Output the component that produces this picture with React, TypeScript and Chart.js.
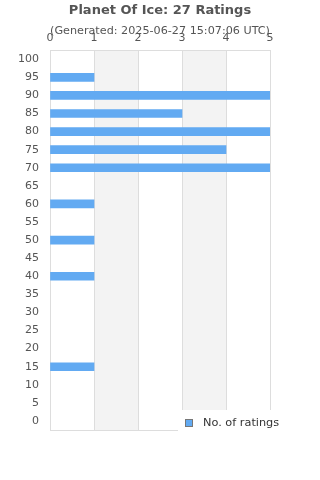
import React, { useEffect, useRef } from "react";
import { Chart, registerables } from "chart.js";

Chart.register(...registerables);

const categories = ["100", "95", "90", "85", "80", "75", "70", "65", "60", "55", "50", "45", "40", "35", "30", "25", "20", "15", "10", "5", "0"];
const ratingValues = [0, 1, 5, 3, 5, 4, 5, 0, 1, 0, 1, 0, 1, 0, 0, 0, 0, 1, 0, 0, 0];
const xTicks = [0, 1, 2, 3, 4, 5];
const shadedBands = [[1, 2], [3, 4]];
const titleText = "Planet Of Ice: 27 Ratings";
const subtitleText = "(Generated: 2025-06-27 15:07:06 UTC)";
const seriesLabel = "No. of ratings";

const BAR = "#62aaf2";
const FONT = "'DejaVu Sans', sans-serif";

export default function App() {
  const ref = useRef<HTMLCanvasElement | null>(null);
  useEffect(() => {
    if (!ref.current) return;
    const bgPlugin = {
      id: "bands",
      beforeDraw(chart: any) {
        const { ctx, chartArea, scales } = chart;
        const x = scales.x;
        ctx.save();
        ctx.fillStyle = "#f3f3f3";
        for (const [a, b] of shadedBands) {
          const x0 = x.getPixelForValue(a);
          const x1 = x.getPixelForValue(b);
          ctx.fillRect(x0, chartArea.top, x1 - x0, chartArea.bottom - chartArea.top);
        }
        ctx.restore();
      },
      beforeDatasetsDraw(chart: any) {
        const { ctx, chartArea } = chart;
        ctx.save();
        ctx.strokeStyle = "#dddddd";
        ctx.lineWidth = 1;
        ctx.beginPath();
        ctx.moveTo(chartArea.left, Math.round(chartArea.bottom) + 0.5);
        ctx.lineTo(chartArea.right, Math.round(chartArea.bottom) + 0.5);
        ctx.stroke();
        ctx.restore();
      },
      afterDraw(chart: any) {
        const { ctx, chartArea } = chart;
        const top = chartArea.bottom - 20;
        ctx.save();
        ctx.fillStyle = "#ffffff";
        ctx.fillRect(178, top, chart.width - 178, 30);
        ctx.fillStyle = BAR;
        ctx.fillRect(185, top + 9, 8, 8);
        ctx.strokeStyle = "#777777";
        ctx.lineWidth = 1;
        ctx.strokeRect(185.5, top + 9.5, 7, 7);
        ctx.fillStyle = "#333333";
        ctx.font = "11.3px " + FONT;
        ctx.textBaseline = "middle";
        ctx.textAlign = "left";
        ctx.fillText(seriesLabel, 203, top + 13);
        ctx.restore();
      },
    };
    const chart = new Chart(ref.current, {
      type: "bar",
      data: {
        labels: categories,
        datasets: [
          {
            label: seriesLabel,
            data: ratingValues.map((v) => (v === 0 ? null : v)),
            backgroundColor: BAR,
            borderWidth: 0,
            barThickness: 8,
          },
        ],
      },
      options: {
        indexAxis: "y",
        animation: false,
        responsive: true,
        maintainAspectRatio: false,
        layout: { padding: { left: 0, right: 0, bottom: 50, top: 0 } },
        plugins: {
          legend: { display: false },
          tooltip: { enabled: false },
          title: {
            display: true,
            text: titleText,
            color: "#555555",
            font: { family: FONT, size: 13, weight: "bold" },
            padding: { top: 3, bottom: 3 },
          },
          subtitle: {
            display: true,
            text: subtitleText,
            color: "#555555",
            font: { family: FONT, size: 11.2 },
            padding: { top: 3, bottom: -11 },
          },
        },
        scales: {
          x: {
            position: "top",
            min: 0,
            max: 5,
            afterBuildTicks(scale: any) {
              scale.ticks = xTicks.map((v) => ({ value: v }));
            },
            afterFit(scale: any) {
              scale.paddingRight = 50;
            },
            ticks: {
              stepSize: 1,
              color: "#555555",
              font: { family: FONT, size: 11 },
              padding: 5,
            },
            grid: { color: "#dddddd", drawTicks: false },
            border: { display: true, color: "#dddddd" },
          },
          y: {
            afterFit(scale: any) {
              scale.width = 50;
            },
            ticks: {
              color: "#555555",
              font: { family: FONT, size: 11 },
              padding: 11,
            },
            grid: { display: false, drawTicks: false },
            border: { display: true, color: "#dddddd" },
          },
        },
      },
      plugins: [bgPlugin],
    } as any);
    return () => chart.destroy();
  }, []);
  return (
    <div style={{ position: "absolute", left: 0, top: 0, width: 320, height: 480, background: "#fff" }}>
      <canvas ref={ref} />
    </div>
  );
}
